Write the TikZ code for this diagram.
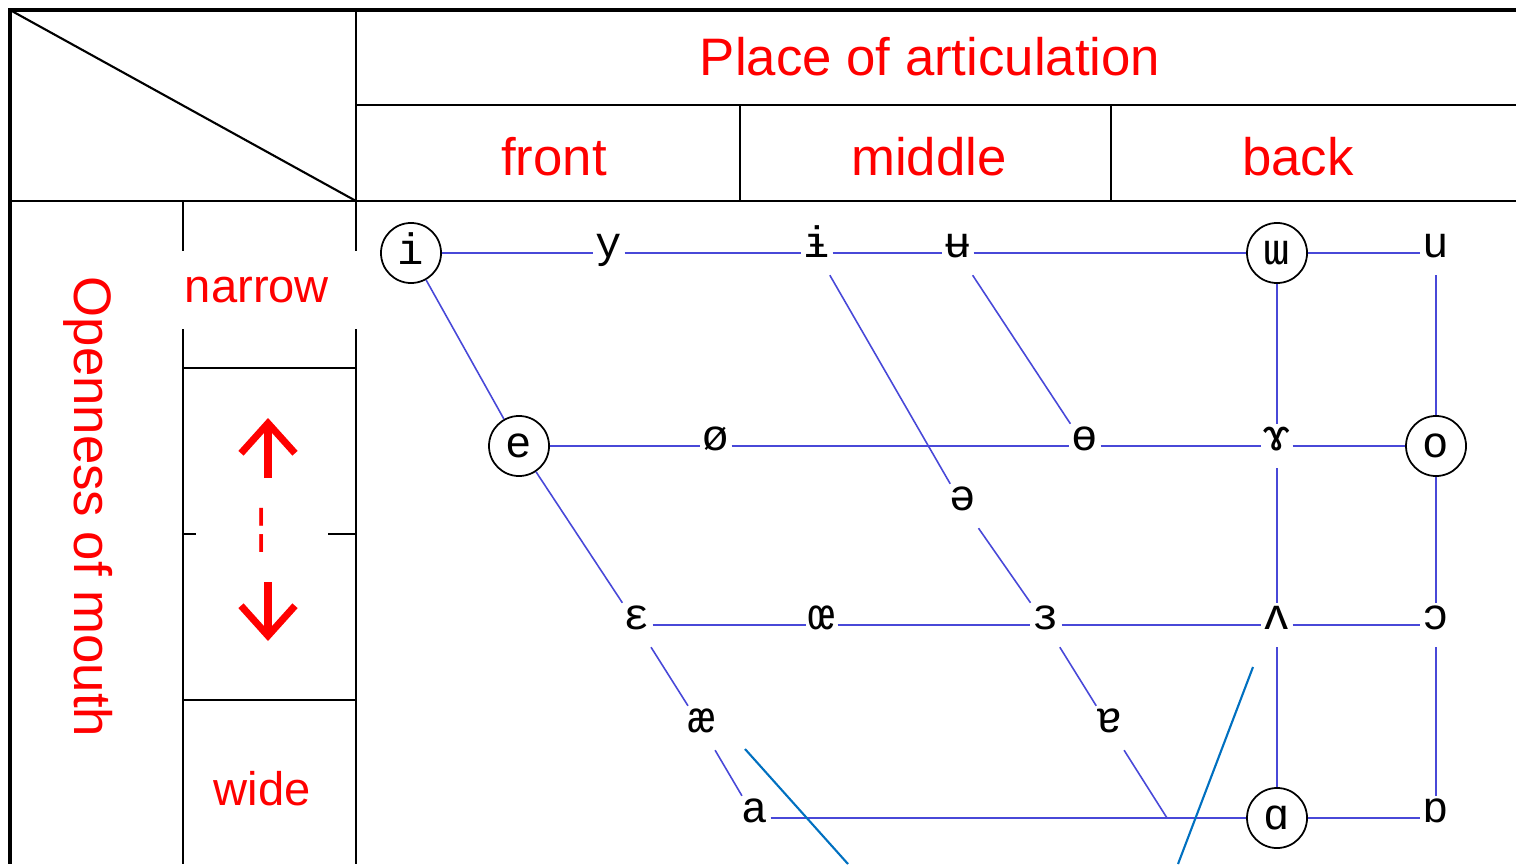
\documentclass[tikz,border=0pt]{standalone}
\usepackage{fontspec}
\setmainfont{Liberation Sans}
\newfontfamily\ipafont{Liberation Mono}
\usetikzlibrary{arrows.meta}
\definecolor{chartline}{RGB}{72,72,216}
\definecolor{strayline}{RGB}{0,112,192}

\begin{document}
\begin{tikzpicture}[x=0.01cm, y=-0.01cm,
	grid/.style={draw=black, line width=0.6pt},
	frame/.style={draw=black, line width=1.4pt},
	heading/.style={text=red, inner sep=0pt, font=\fontsize{15}{18}\selectfont},
	scalelabel/.style={text=red, font=\fontsize{13.4}{16}\selectfont},
	vowel/.style={font=\ipafont\fontsize{12.5}{14}\selectfont, inner xsep=0.5pt, inner ysep=0pt, text height=0.255cm, text depth=0.175cm},
	ringed/.style={font=\ipafont\fontsize{12.5}{14}\selectfont, circle, draw, line width=0.5pt, minimum size=0.6cm, inner sep=0pt, text height=6.5pt, text depth=0pt},
	link/.style={draw=chartline, line width=0.45pt},
	stray/.style={draw=strayline, line width=0.6pt},
	openarrow/.style={draw=red, line width=2pt, -{Straight Barb[length=0.3cm, width=0.54cm]}}]
			
			\useasboundingbox (0,0) rectangle (1516,864);
			
			% Table
			\draw[frame] (1516,10) -- (10,10) -- (10,864);
			\draw[grid] (10,10) -- (356,201);
			\draw[grid] (10,201) -- (1516,201);
			\draw[grid] (356,105) -- (1516,105);
			\draw[grid] (356,10) -- (356,864);
			\draw[grid] (740,105) -- (740,201);
			\draw[grid] (1111,105) -- (1111,201);
			\draw[grid] (183,201) -- (183,864);
			\draw[grid] (183,368) -- (356,368);
			\draw[grid] (183,534) -- (356,534);
			\draw[grid] (183,700) -- (356,700);
			
			% Headings
			\node[heading] (place) at (930,57) {Place of articulation};
			\node[heading] (front) at (554,157) {front};
			\node[heading] (middle) at (929,157) {middle};
			\node[heading] (back) at (1298,157) {back};
			\node[heading, rotate=-90] (openness) at (88,507) {Openness of mouth};
			
			% Openness scale
			\node[scalelabel, fill=white, minimum width=2.3cm, minimum height=0.78cm] (narrow) at (257,290) {narrow};
			\node[scalelabel, fill=white, inner sep=0pt, minimum width=1.31cm, minimum height=0.5cm] (midmark) at (262,530) {¦};
			\node[scalelabel] (wide) at (262,789) {wide};
			\coordinate (uptail) at (268,478);
			\coordinate (uphead) at (268,418);
			\coordinate (downtail) at (268,582);
			\coordinate (downhead) at (268,641);
			\draw[openarrow] (uptail) -- (uphead);
			\draw[openarrow] (downtail) -- (downhead);
			
			% Close vowels
			\node[ringed] (i) at (411,253) {i};
			\node[vowel] (y) at (609,253) {y};
			\node[vowel] (ibar) at (817,253) {ɨ};
			\node[vowel] (ubar) at (958,253) {ʉ};
			\node[ringed] (turnedm) at (1277,253) {ɯ};
			\node[vowel] (u) at (1436,253) {u};
			
			% Close-mid vowels
			\node[ringed] (e) at (519,446) {e};
			\node[vowel] (oslash) at (716,446) {ø};
			\node[vowel] (obar) at (1085,446) {ɵ};
			\node[vowel] (ramshorn) at (1277,446) {ɤ};
			\node[ringed] (o) at (1436,446) {o};
			\node[vowel] (schwa) at (963,506) {ə};
			
			% Open-mid vowels
			\node[vowel] (epsilon) at (637,625) {ɛ};
			\node[vowel] (oe) at (822,625) {œ};
			\node[vowel] (revepsilon) at (1046,625) {ɜ};
			\node[vowel] (turnedv) at (1277,625) {ʌ};
			\node[vowel] (openo) at (1436,625) {ɔ};
			\node[vowel] (ae) at (702,728) {æ};
			\node[vowel] (turneda) at (1110,728) {ɐ};
			
			% Open vowels
			\node[vowel] (a) at (755,818) {a};
			\node[ringed] (alpha) at (1277,818) {ɑ};
			\node[vowel] (turnedalpha) at (1436,818) {ɒ};
			\coordinate (midend) at (1167,818);
			
			% Connections
			\draw[link] (i) -- (y) -- (ibar) -- (ubar) -- (turnedm) -- (u);
			\draw[link] (e) -- (oslash) -- (obar) -- (ramshorn) -- (o);
			\draw[link] (epsilon) -- (oe) -- (revepsilon) -- (turnedv) -- (openo);
			\draw[link] (a) -- (alpha) -- (turnedalpha);
			
			\draw[link] (i) -- (e) -- (epsilon) -- (ae) -- (a);
			\draw[link] (ibar) -- (schwa) -- (revepsilon) -- (turneda) -- (midend);
			\draw[link] (ubar) -- (obar);
			\draw[link] (turnedm) -- (ramshorn) -- (turnedv) -- (alpha);
			\draw[link] (u) -- (o) -- (openo) -- (turnedalpha);
			
			\coordinate (straya1) at (745,749);
			\coordinate (straya2) at (848,864);
			\coordinate (strayb1) at (1253,667);
			\coordinate (strayb2) at (1178,864);
			\draw[stray] (straya1) -- (straya2);
			\draw[stray] (strayb1) -- (strayb2);
			
		\end{tikzpicture}
\end{document}
